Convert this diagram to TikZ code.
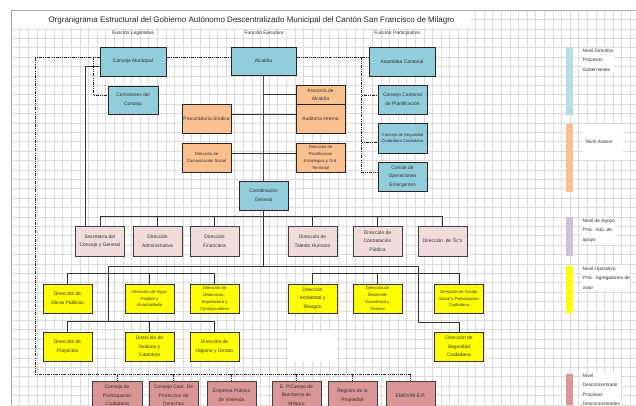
\documentclass[tikz,border=0pt]{standalone}
\usepackage{fontspec}
\setmainfont{Liberation Sans}
\usetikzlibrary{calc}
\definecolor{bluebx}{RGB}{146,205,220}
\definecolor{orangebx}{RGB}{250,192,144}
\definecolor{pinkbx}{RGB}{242,220,219}
\definecolor{yellowbx}{RGB}{255,255,0}
\definecolor{rosebx}{RGB}{218,150,148}
\definecolor{legblue}{RGB}{183,222,232}
\definecolor{legpurple}{RGB}{204,192,218}
\definecolor{gridc}{RGB}{220,220,220}
\definecolor{txt}{RGB}{50,50,50}
\tikzset{
  gridline/.style={draw=gridc, line width=0.45pt},
  basebox/.style={draw=black!85, line width=1pt, align=center, inner sep=0.5pt,
    font=\fontsize{4.9}{8.6}\selectfont, text=txt, minimum width=49, minimum height=29},
  bluebox/.style={basebox, fill=bluebx},
  orangebox/.style={basebox, fill=orangebx},
  pinkbox/.style={basebox, fill=pinkbx, draw=black!75},
  yellowbox/.style={basebox, fill=yellowbx, draw=black!80},
  rosebox/.style={basebox, fill=rosebx, draw=black!75},
  small/.style={font=\fontsize{4.2}{6.8}\selectfont},
  solidline/.style={draw=black!80, line width=0.8pt},
  dashline/.style={draw=black!85, line width=0.7pt, dash pattern=on 3pt off 1.2pt on 0.8pt off 1.2pt on 0.8pt off 1.2pt},
  header/.style={font=\fontsize{4.9}{6}\selectfont, text=txt, inner sep=0.5pt},
  legtext/.style={font=\fontsize{4.8}{9.6}\selectfont, text=txt, align=left, anchor=north west, inner sep=0.5pt, fill=white},
}
\begin{document}
\begin{tikzpicture}[x=1pt,y=-1pt]
\useasboundingbox (0,0) rectangle (636,405);
\fill[white] (0,0) rectangle (636,405);
% grid
\foreach \i in {0,...,73} \draw[gridline] ({11+8.6*\i},10) -- ({11+8.6*\i},405);
\foreach \j in {0,...,42} \draw[gridline] (11,{10+9.4*\j}) -- (636,{10+9.4*\j});
\fill[white] (11.5,10.5) rectangle (470,27.5);
\draw[draw=black!35, line width=0.6pt] (11,405) -- (11,10) -- (636,10);

% title and headers
\node[font=\fontsize{8}{9}\selectfont, text=black!85, inner sep=1pt] (title) at (251.5,20) {Orgranigrama Estructural del Gobierno Autónomo Descentralizado Municipal del Cantón San Francisco de Milagro};
\node[header] (hleg) at (133,33) {Función Legislativa};
\node[header] (heje) at (264,33) {Función Ejecutiva};
\node[header] (hpar) at (397,33) {Función Participativa};

% white blank cell
\fill[white] (288,332) rectangle (337,361);

% top level
\node[bluebox, minimum width=66] (cm) at (133,61.5) {Concejo Municipal};
\node[bluebox, minimum width=65, minimum height=28] (al) at (263.5,61) {Alcaldía};
\node[bluebox, minimum width=66] (as) at (402,61.5) {Asamblea Cantonal};
\node[bluebox, minimum width=50, minimum height=28] (com) at (133,100) {Comisiones del\\Concejo};

% advisory
\node[orangebox, minimum height=19, font=\fontsize{4.9}{7.5}\selectfont] (ase) at (320.5,94.5) {Asesoría de\\Alcaldía};
\node[orangebox] (aud) at (320.5,118.5) {Auditoría Interna};
\node[orangebox] (pro) at (206.5,118.5) {Procuraduría Síndica};
\node[orangebox, small] (cos) at (206.5,157.5) {Dirección de\\Comunicación Social};
\node[orangebox, small] (pla) at (320.5,157.5) {Dirección de\\Planificacion\\Estrategica y Ord.\\Territorial};

% participative
\node[bluebox] (ccp) at (402.5,99.5) {Consejo Cantonal\\de Planificación};
\node[bluebox, small, minimum height=30] (cse) at (402.5,138) {Consejo de Seguridad\\Ciudadana Ciudadana};
\node[bluebox] (coe) at (402.5,176.5) {Comité de\\Operaciones\\Emergentes};

% coordination
\node[bluebox] (cg) at (263.5,195.5) {Coordinación\\General};

% support row
\node[pinkbox, minimum height=30] (sec) at (100,241) {Secretaría del\\Concejo y General};
\node[pinkbox, minimum height=30] (adm) at (157.5,241) {Dirección\\Administrativa};
\node[pinkbox, minimum height=30] (fin) at (214.5,241) {Dirección\\Financiera};
\node[pinkbox, minimum height=30] (tal) at (312.5,241) {Dirección de\\Talento Humano};
\node[pinkbox, minimum height=30] (con) at (377.5,241) {Dirección de\\Contratación\\Pública};
\node[pinkbox, minimum height=30] (tic) at (442.5,241) {Dirección~ de Tic's};

% operative rows
\node[yellowbox] (obr) at (67.5,298.5) {Dirección de\\Obras Públicas};
\node[yellowbox, small] (agu) at (149.5,298.5) {Dirección de Agua\\Potable y\\Alcantarillado};
\node[yellowbox, small] (urb) at (214.5,298.5) {Dirección de\\Urbanismo ,\\Arquitectura y\\Construcciones};
\node[yellowbox] (amb) at (312.5,298.5) {Dirección\\Ambiental y\\Riesgos};
\node[yellowbox, small] (des) at (377.5,298.5) {Dirección de\\Desarrollo\\Económico y\\Turismo};
\node[yellowbox, small] (acc) at (459,298.5) {Dirección de Acción\\Social y Participación\\Ciudadana};
\node[yellowbox] (pry) at (67.5,346.5) {Dirección de\\Proyectos};
\node[yellowbox] (ava) at (149.5,346.5) {Dirección de\\Avalúos y\\Catastros};
\node[yellowbox] (hig) at (214.5,346.5) {Dirección de\\Higiene y Ornato};
\node[yellowbox] (seg) at (459,346.5) {Dirección de\\Seguridad\\Ciudadana};

% decentralized
\node[rosebox, minimum width=50] (cpc) at (117,395.5) {Consejo de\\Participación\\Ciudadana};
\node[rosebox] (ccd) at (173.5,395.5) {Consejo Cant. De\\Proteccion de\\Derechos};
\node[rosebox] (epv) at (231.5,395.5) {Empresa Pública\\de Vivienda};
\node[rosebox] (bom) at (296.5,395.5) {E. P.Cuerpo de\\Bomberos de\\Milagro};
\node[rosebox] (reg) at (352.5,395.5) {Registro de la\\Propiedad};
\node[rosebox] (emo) at (410.5,395.5) {EMOVIM E.P.};

% coordinates
\coordinate (ylink) at (0,57);
\coordinate (lc) at (35,57);
\coordinate (lb) at (35,374);
\coordinate (ybot) at (0,374);
\coordinate (kc) at (93,57);
\coordinate (rc) at (361,57);
\coordinate (opbar) at (0,266);
\coordinate (opl) at (108,266);
\coordinate (opr) at (418,266);
\coordinate (oplb) at (108,322);
\coordinate (oprb) at (418,322);

% dash-dot connectors
\draw[dashline] (cm.east |- ylink) -- (al.west |- ylink);
\draw[dashline] (al.east |- ylink) -- (as.west |- ylink);
\draw[dashline] (cm.west |- ylink) -- (lc) -- (lb) -- (emo.north |- ybot);
\draw[dashline] (kc) |- (com.west |- 0,95);
\draw[dashline] (rc) |- (ccp.west |- 0,95);
\draw[dashline] (rc) |- (cse.west |- 0,142);
\draw[dashline] (rc) |- (coe.west |- 0,172);
\foreach \n in {cpc,ccd,epv,bom,reg,emo} \draw[dashline] (\n.north |- ybot) -- (\n.north);

% solid connectors
\draw[solidline] (cm.west |- 0,66) -| ([xshift=-15pt]sec.north);
\draw[solidline, draw=black!70] (al.south) -- (cg.north);
\draw[solidline] (al.south |- ase.west) -- (ase.west);
\draw[solidline] (pro.east |- 0,114) -- (aud.west |- 0,114);
\draw[solidline] (cos.east |- 0,153) -- (pla.west |- 0,153);
\draw[solidline] (sec.north) -- ++(0,-9) -| (tic.north);
\foreach \n in {adm,fin,tal,con} \draw[solidline] (\n.north) -- ++(0,-9);
\draw[solidline] (cg.south) -- (cg.south |- opbar);
\draw[solidline] (opl) -- (opr);
\draw[solidline] (opl) -- (oplb);
\draw[solidline] (opr) -- (oprb) -| (seg.north);
\draw[solidline] (obr.north) -- ++(0,-10) -| (urb.north);
\draw[solidline] (agu.north) -- ++(0,-10);
\draw[solidline] (pry.north) -- ++(0,-10) -| (hig.north);
\draw[solidline] (ava.north) -- ++(0,-10);
\draw[solidline] (amb.north) -- ++(0,-10) -| (acc.north);
\draw[solidline] (des.north) -- ++(0,-10);

% legend
\fill[legblue] (566,47) rectangle (573,115);
\fill[orangebx] (566,124) rectangle (573,192);
\fill[legpurple] (566,217) rectangle (573,256);
\fill[yellowbx] (566,266) rectangle (573,313);
\fill[rosebx] (566,374) rectangle (573,405);
\fill[white] (583,124) rectangle (623,160);
\node[legtext] (l1) at (582,48) {Nivel Directivo\\Procesos\\Gobernantes};
\node[legtext] (l2) at (585,139) {Nivel Asesor};
\node[legtext] (l3) at (582,218) {Nivel de Apoyo\\Proc. hab. de\\apoyo};
\node[legtext] (l4) at (582,266) {Nivel Operativo\\Proc. Agregadores de\\valor};
\node[legtext] (l5) at (582,373) {Nivel\\Desconcentrado\\Procesos\\Desconcentrados};
\end{tikzpicture}
\end{document}
